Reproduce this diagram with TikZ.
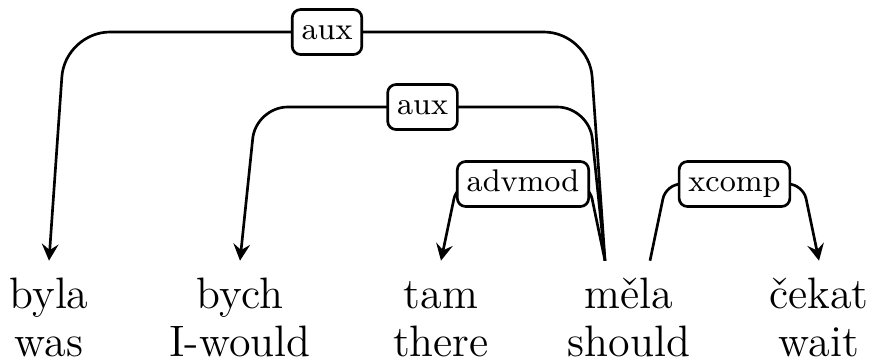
\documentclass[tikz,border=0pt]{standalone}
\usepackage{fontspec}
\usetikzlibrary{positioning,arrows.meta,calc}

\begin{document}
\begin{tikzpicture}[
    x=0.3pt, y=-0.3pt,
    word/.style={font=\fontsize{13.2}{15}\selectfont, anchor=base, inner xsep=0pt, inner ysep=3pt, text height=11pt, text depth=3pt},
    gloss/.style={font=\fontsize{13.2}{15}\selectfont, anchor=base, inner sep=0pt},
    dep/.style={-{Stealth[length=5pt, width=5pt, inset=1.8pt]}, thick},
    deplabel/.style={draw, thick, fill=white, rounded corners=2.5pt, font=\fontsize{9.4}{11}\selectfont, inner xsep=2.8pt, inner ysep=2pt, text height=7pt, text depth=2.5pt}
]
\useasboundingbox (0,0) rectangle (874,361);

% ===== Words =====
\node[word] (byla) at (49,308) {byla};
\node[word] (bych) at (240,308) {bych};
\node[word] (tam) at (441,308) {tam};
\node[word] (mela) at (629,308) {měla};
\node[word] (cekat) at (819,308) {čekat};

% ===== Glosses =====
\node[gloss] (was) at (49,356) {was};
\node[gloss] (iwould) at (240,356) {I-would};
\node[gloss] (there) at (441,356) {there};
\node[gloss] (should) at (629,356) {should};
\node[gloss] (wait) at (819,356) {wait};

% ===== Edge ends and levels =====
\coordinate (mela-l) at ([xshift=-7.2pt]mela.north);
\coordinate (mela-r) at ([xshift=6.3pt]mela.north);
\coordinate (lvl1) at (0,32);
\coordinate (lvl2) at (0,107);
\coordinate (lvl3) at (0,184);

% ===== Dependencies =====
\draw[dep, rounded corners=13.5pt] (mela-l) -- ($(mela-l |- lvl1)+(-16,0)$) -- node[deplabel]{aux} ($(byla.north |- lvl1)+(16,0)$) -- (byla.north);
\draw[dep, rounded corners=9.5pt] (mela-l) -- ($(mela-l |- lvl2)+(-16,0)$) -- node[deplabel]{aux} ($(bych.north |- lvl2)+(16,0)$) -- (bych.north);
\draw[dep, rounded corners=4.5pt] (mela-l) -- ($(mela-l |- lvl3)+(-16,0)$) -- node[deplabel]{advmod} ($(tam.north |- lvl3)+(16,0)$) -- (tam.north);
\draw[dep, rounded corners=4.5pt] (mela-r) -- ($(mela-r |- lvl3)+(16,0)$) -- node[deplabel]{xcomp} ($(cekat.north |- lvl3)+(-16,0)$) -- (cekat.north);

\end{tikzpicture}
\end{document}
